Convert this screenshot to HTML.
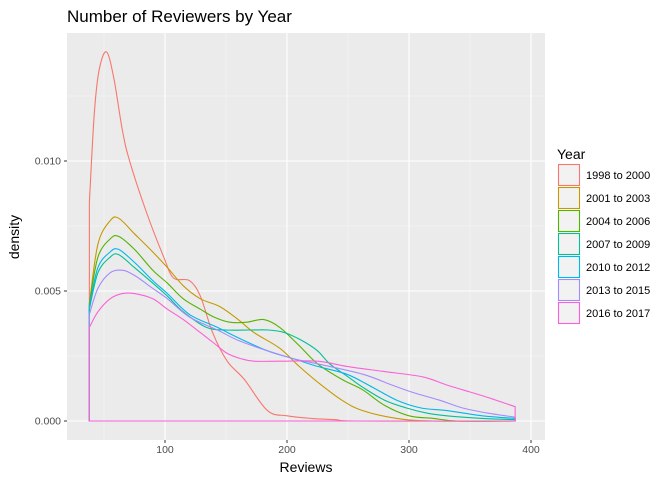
<!DOCTYPE html>
<html><head><meta charset="utf-8"><style>
body{margin:0;background:#fff;font-family:"Liberation Sans",sans-serif}
svg text{font-family:"Liberation Sans",sans-serif}
</style></head><body>
<svg id="chart" width="672" height="480" xmlns="http://www.w3.org/2000/svg">
<rect width="672" height="480" fill="#fff"/>
<text x="67" y="22" font-size="17" fill="#000">Number of Reviewers by Year</text>
<rect x="67" y="33" width="478" height="407" fill="#EBEBEB"/>
<g id="grid"></g>
<g id="series"></g>
<g id="axes"></g>
<text x="306" y="472" font-size="14" text-anchor="middle">Reviews</text>
<text transform="translate(19,237) rotate(-90)" font-size="14" text-anchor="middle">density</text>
<g id="legend">
<text x="557" y="159" font-size="14">Year</text>
</g>
</svg>
<script>
const xTicks=[100,200,300,400];
const yTicks=[0,0.005,0.010];
const yTickLabels=["0.000","0.005","0.010"];
const seriesNames=["1998 to 2000","2001 to 2003","2004 to 2006","2007 to 2009","2010 to 2012","2013 to 2015","2016 to 2017"];
const seriesColors=["#F8766D","#C49A00","#53B400","#00C094","#00B6EB","#A58AFF","#FB61D7"];
const s1998=[[38,0.0084],[42,0.0118],[46,0.0135],[52,0.0142],[58,0.0132],[65,0.0112],[71,0.0100],[85,0.0080],[99,0.0063],[107,0.0055],[120,0.0054],[129,0.0048],[139,0.0034],[151,0.0023],[165,0.0016],[184,0.0004],[200,0.0002],[220,0.0001],[240,0.00005],[260,0],[387,0]];
const s2001=[[38,0.0045],[45,0.0068],[55,0.0077],[62,0.0078],[75,0.0072],[90,0.0065],[102,0.0059],[115,0.0052],[129,0.0047],[145,0.0044],[160,0.0039],[173,0.0034],[194,0.0028],[210,0.0021],[225,0.0015],[245,0.0008],[262,0.0004],[290,0.0001],[320,0],[387,0]];
const s2004=[[38,0.0045],[45,0.0063],[55,0.0070],[62,0.0071],[75,0.0066],[90,0.0058],[102,0.0053],[115,0.0047],[129,0.0043],[140,0.0040],[153,0.0038],[167,0.0038],[181,0.0039],[194,0.0036],[210,0.0029],[225,0.0022],[245,0.0016],[262,0.0012],[280,0.0006],[300,0.0002],[320,0.0001],[340,0],[387,0]];
const s2007=[[38,0.0043],[45,0.0057],[55,0.0063],[62,0.0064],[75,0.0059],[90,0.0053],[102,0.0048],[115,0.0042],[134,0.0036],[150,0.0035],[170,0.0035],[185,0.0035],[198,0.0034],[212,0.0031],[225,0.0027],[235,0.0022],[250,0.0017],[262,0.0013],[280,0.0008],[298,0.0005],[315,0.0003],[331,0.0002],[360,0.0001],[387,0.00005]];
const s2010=[[38,0.0044],[45,0.0059],[55,0.0065],[62,0.0066],[75,0.0061],[90,0.0054],[102,0.0049],[120,0.0041],[143,0.0036],[160,0.0032],[184,0.0027],[205,0.0024],[225,0.0021],[249,0.0018],[270,0.0013],[290,0.0008],[310,0.0005],[331,0.0004],[360,0.0002],[387,0.0001]];
const s2013=[[38,0.0041],[45,0.0051],[55,0.0057],[65,0.0058],[75,0.0056],[90,0.0051],[102,0.0047],[120,0.0040],[143,0.0035],[160,0.0031],[184,0.0027],[205,0.0024],[225,0.0022],[262,0.0018],[285,0.0014],[303,0.0011],[325,0.0008],[344,0.0005],[365,0.0003],[387,0.00015]];
const s2016=[[38,0.0036],[45,0.0042],[55,0.0047],[65,0.0049],[75,0.0049],[90,0.0047],[102,0.0043],[115,0.0039],[129,0.0034],[140,0.0030],[151,0.0026],[162,0.0024],[173,0.0023],[194,0.0023],[225,0.0023],[249,0.0021],[280,0.0019],[311,0.0017],[330,0.0014],[344,0.0012],[365,0.0009],[387,0.00055]];
const allSeries=[s1998,s2001,s2004,s2007,s2010,s2013,s2016];

const NS="http://www.w3.org/2000/svg";
const xS=v=>43+v*1.22;
const yS=d=>421-d*26000;
function mk(tag,attrs,parent){const e=document.createElementNS(NS,tag);for(const k in attrs)e.setAttribute(k,attrs[k]);parent.appendChild(e);return e;}
const grid=document.getElementById('grid'),axes=document.getElementById('axes'),ser=document.getElementById('series'),leg=document.getElementById('legend');
// minor grid
for(let i=0;i<xTicks.length;i++){const v=xTicks[i]-50;const l=mk('line',{x1:xS(v),x2:xS(v),y1:33,y2:440,stroke:'#F5F5F5','stroke-width':0.6},grid);

}
for(let i=0;i<yTicks.length;i++){const v=yTicks[i]+0.0025;const l=mk('line',{x1:67,x2:545,y1:yS(v),y2:yS(v),stroke:'#F5F5F5','stroke-width':0.6},grid);

}
xTicks.forEach(v=>{const l=mk('line',{x1:xS(v),x2:xS(v),y1:33,y2:440,stroke:'#fff','stroke-width':1.1},grid);


const t=mk('line',{x1:xS(v),x2:xS(v),y1:440,y2:443,stroke:'#333','stroke-width':1},axes);


const tx=mk('text',{x:xS(v),y:453,'font-size':10.5,fill:'#4D4D4D','text-anchor':'middle'},axes);tx.textContent=v;

});
yTicks.forEach((v,i)=>{const l=mk('line',{x1:67,x2:545,y1:yS(v),y2:yS(v),stroke:'#fff','stroke-width':1.1},grid);


const t=mk('line',{x1:64,x2:67,y1:yS(v),y2:yS(v),stroke:'#333','stroke-width':1},axes);


const tx=mk('text',{x:61,y:yS(v)+3.5,'font-size':10.5,fill:'#4D4D4D','text-anchor':'end'},axes);tx.textContent=yTickLabels[i];

});
function smooth(pts){let d='M'+pts[0][0]+','+pts[0][1];for(let i=0;i<pts.length-1;i++){const p0=pts[Math.max(i-1,0)],p1=pts[i],p2=pts[i+1],p3=pts[Math.min(i+2,pts.length-1)];
const c1=[p1[0]+(p2[0]-p0[0])/6,p1[1]+(p2[1]-p0[1])/6],c2=[p2[0]-(p3[0]-p1[0])/6,p2[1]-(p3[1]-p1[1])/6];d+=' C'+c1+' '+c2+' '+p2;}return d;}
allSeries.forEach((s,i)=>{const pts=s.map(p=>[xS(p[0]),yS(p[1])]);
const first=s[0][0],last=s[s.length-1][0];
let d='M'+xS(first)+','+yS(0)+' L'+pts[0]+' '+smooth(pts).slice(1).replace(/^[^C]*/,'')+' L'+xS(last)+','+yS(0)+' Z';
const p=mk('path',{d:d,fill:'none',stroke:seriesColors[i],'stroke-width':1.1},ser);


const y0=164+i*23;
const r=mk('rect',{x:558.5,y:y0+0.5,width:21,height:21,fill:'#F2F2F2',stroke:seriesColors[i],'stroke-width':1.1},leg);


const t=mk('text',{x:586,y:y0+15,'font-size':11},leg);t.textContent=seriesNames[i];

});
</script>
</body></html>
